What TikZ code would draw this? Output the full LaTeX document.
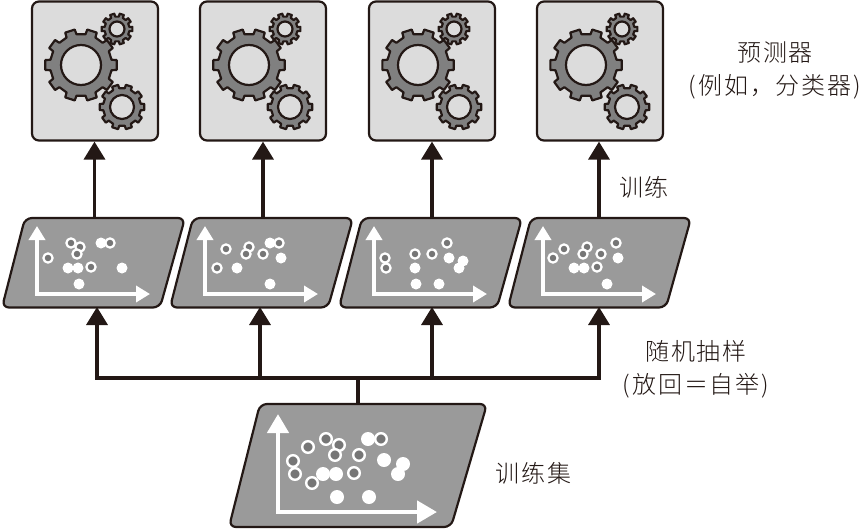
\documentclass[tikz,border=0pt]{standalone}
\usepackage{fontspec}
\newfontfamily\cjk[LetterSpace=8,UprightFont=* Light]{Noto Sans CJK SC}
\usetikzlibrary{arrows.meta}
\definecolor{ink}{HTML}{231815}
\definecolor{boxfill}{HTML}{DCDCDC}
\definecolor{panel}{HTML}{9A9A9A}
\definecolor{gearfill}{HTML}{808080}
\definecolor{dotfill}{HTML}{767676}
\tikzset{
  gearbox/.style={draw=ink,line width=2.2pt,fill=boxfill,rounded corners=7pt,minimum width=126pt,minimum height=139pt,inner sep=0pt},
  panelshape/.style={draw=ink,line width=2.2pt,fill=panel,rounded corners=7pt},
  link/.style={draw=ink,line width=3.5pt},
  up/.style={link,-{Triangle[length=18pt,width=21pt]}},
  axis/.style={draw=white,line width=3.5pt,{Triangle[length=14pt,width=16pt]}-{Triangle[length=14pt,width=16pt]}},
  bigaxis/.style={draw=white,line width=4.5pt,{Triangle[length=19pt,width=21pt]}-{Triangle[length=20pt,width=22pt]}},
  lbl/.style={font=\cjk\fontsize{24}{33}\selectfont,text=ink,align=center,inner sep=0pt},
}
% gear: cx cy outer root hole teeth
\newcommand{\gearat}[6]{%
  \pgfmathsetmacro{\st}{360/#6}
  \path[draw=ink,line width=2.2pt,fill=gearfill,line join=round]
    \foreach \i in {1,...,#6}{
      \ifnum\i=1 ({#1+#4*cos(\st*\i-0.27*\st)},{#2+#4*sin(\st*\i-0.27*\st)})\else
      -- ({#1+#4*cos(\st*\i-0.27*\st)},{#2+#4*sin(\st*\i-0.27*\st)})\fi
      -- ({#1+#3*cos(\st*\i-0.22*\st)},{#2+#3*sin(\st*\i-0.22*\st)})
      -- ({#1+#3*cos(\st*\i+0.22*\st)},{#2+#3*sin(\st*\i+0.22*\st)})
      -- ({#1+#4*cos(\st*\i+0.27*\st)},{#2+#4*sin(\st*\i+0.27*\st)})
    } -- cycle;
  \path[draw=ink,line width=2.2pt,fill=boxfill] (#1,#2) circle[radius=#5];
}
\newcommand{\gears}[1]{%
  \gearat{#1+50}{65}{36}{31}{20}{10}
  \gearat{#1+86}{29}{15.5}{12.5}{7.5}{10}
  \gearat{#1+91}{107}{22.5}{19}{12}{10}
}
\newcommand{\fd}[2]{\fill[white] (#1,#2) circle[radius=5.5];}
\newcommand{\od}[2]{\draw[white,line width=2.2pt,fill=dotfill] (#1,#2) circle[radius=4.6];}
\newcommand{\FD}[2]{\fill[white] (#1,#2) circle[radius=7];}
\newcommand{\OD}[2]{\draw[white,line width=2.4pt,fill=dotfill] (#1,#2) circle[radius=5.8];}
\newcommand{\panelat}[1]{%
  \draw[panelshape] (#1+25,218) -- (#1+185,218) -- (#1+160,307.5) -- (#1+2,307.5) -- cycle;
  \draw[axis] (#1+37,226) -- (#1+37,294) -- (#1+150,294);
}
\begin{document}
\begin{tikzpicture}[x=1pt,y=-1pt]
\useasboundingbox (0,0) rectangle (861,530);
% predictors
\node[gearbox] (g1) at (95,71) {};
\node[gearbox] (g2) at (263,71) {};
\node[gearbox] (g3) at (432,71) {};
\node[gearbox] (g4) at (600,71) {};
\gears{31}\gears{199}\gears{368}\gears{536}
% panels
\panelat{0}\panelat{168}\panelat{337}\panelat{506}
\coordinate (t1) at (94.5,218);\coordinate (t2) at (263,218);\coordinate (t3) at (432,218);\coordinate (t4) at (599,218);
\coordinate (b1) at (97,307);\coordinate (b2) at (260,307);\coordinate (b3) at (432,307);\coordinate (b4) at (599,307);
\fd{101}{243}\fd{68}{268}\fd{78}{268}\fd{122}{268}\fd{79}{284}
\od{71}{243}\od{80}{247}\od{77}{254}\od{48}{258}\od{91}{267}\od{110}{243}
\fd{270}{243}\fd{237}{268}\fd{281}{258}\fd{270}{284}
\od{226}{249}\od{249}{247}\od{246}{254}\od{263}{254}\od{217}{268}\od{279}{243}
\fd{449}{258}\fd{463}{261}\fd{459}{268}\fd{415}{268}\fd{416}{284}\fd{439}{284}
\od{447}{243}\od{415}{254}\od{432}{254}\od{385}{258}\od{386}{268}
\fd{574}{268}\fd{584}{268}\fd{618}{258}\fd{607}{284}
\od{616}{243}\od{587}{247}\od{583}{254}\od{601}{254}\od{564}{249}\od{553}{258}\od{597}{267}
% training set
\draw[panelshape] (260,404) -- (487,404) -- (451,527) -- (229,527) -- cycle;
\draw[bigaxis] (278,414) -- (278,512) -- (437,512);
\FD{368}{439}\FD{384}{460}\FD{403}{464}\FD{398}{474}\FD{323}{474}\FD{336}{474}\FD{337}{497}\FD{369}{497}
\OD{381}{439}\OD{326}{439}\OD{339}{445}\OD{335}{455}\OD{308}{447}\OD{293}{461}\OD{359}{455}\OD{354}{473}\OD{295}{474}\OD{312}{483}
\coordinate (ts) at (358,404);
\coordinate (j) at (358,378);
\coordinate (jl) at (97,378);
\coordinate (jr) at (599,378);
% connectors
\draw[link] (ts) -- (j);
\draw[link,line cap=rect] (jl) -- (jr);
\draw[up] (jl) -- (b1);
\draw[up] (b2 |- j) -- (b2);
\draw[up] (b3 |- j) -- (b3);
\draw[up] (jr) -- (b4);
\draw[up] (t1) -- (g1.south -| t1);
\draw[up] (t2) -- (g2.south -| t2);
\draw[up] (t3) -- (g3.south -| t3);
\draw[up] (t4) -- (g4.south -| t4);
% labels
\node[lbl] (l1) at (775,70) {预测器\\(例如，分类器)};
\node[lbl] (l2) at (644,187) {训练};
\node[lbl] (l3) at (696,369) {随机抽样\\(放回＝自举)};
\node[lbl] (l4) at (533.5,473) {训练集};
\end{tikzpicture}
\end{document}
